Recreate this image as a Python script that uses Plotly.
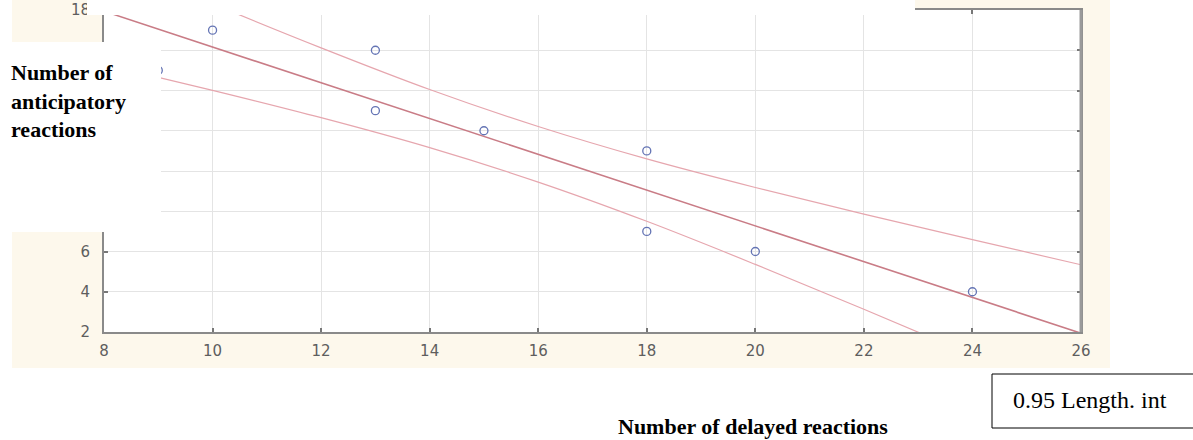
import plotly.graph_objects as go

# ---- data ----
delayed = [9, 10, 13, 13, 15, 18, 18, 20, 24]           # x: number of delayed reactions
anticipatory = [15, 17, 16, 13, 12, 11, 7, 6, 4]         # y: number of anticipatory reactions

band_x = [8, 10, 12, 14, 16, 18, 20, 22, 24, 26]
fit_y = [17.94, 16.16, 14.38, 12.61, 10.83, 9.05, 7.27, 5.49, 3.72, 1.94]
upper_y = [20.58, 18.31, 16.12, 14.05, 12.21, 10.60, 9.18, 7.86, 6.59, 5.34]
lower_y = [15.30, 14.01, 12.65, 11.16, 9.45, 7.50, 5.36, 3.13, 0.85, -1.47]

x_ticks = [8, 10, 12, 14, 16, 18, 20, 22, 24, 26]
x_tick_text = ["8", "10", "12", "14", "16", "18", "20", "22", "24", "26"]
y_ticks = [2, 4, 6, 8, 10, 12, 14, 16, 18]
# labels 8..16 are hidden behind the white label box in the reference
y_tick_text = ["2", "4", "6", "", "", "", "", "", "18"]

x_title = "Number of delayed reactions"
y_title = "Number of<br>anticipatory<br>reactions"
legend_text = "0.95 Length. int"

# ---- layout geometry (pixels) ----
FW, FH = 1193, 440
L, R, T, B = 104, 1081, 10, 332
W, H = R - L, B - T


def px(xp):
    return (xp - L) / W


def py(yp):
    return (B - yp) / H


fig = go.Figure()

fig.add_trace(go.Scatter(x=band_x, y=upper_y, mode="lines", line_shape="spline",
                         line=dict(color="#e6a6ae", width=1.2), hoverinfo="skip", showlegend=False))
fig.add_trace(go.Scatter(x=band_x, y=lower_y, mode="lines", line_shape="spline",
                         line=dict(color="#e6a6ae", width=1.2), hoverinfo="skip", showlegend=False))
fig.add_trace(go.Scatter(x=band_x, y=fit_y, mode="lines",
                         line=dict(color="#c97c86", width=1.6), hoverinfo="skip", showlegend=False))
fig.add_trace(go.Scatter(x=delayed, y=anticipatory, mode="markers",
                         marker=dict(symbol="circle-open", size=8, color="#6474b4",
                                     line=dict(width=1.3, color="#6474b4")),
                         showlegend=False))

shapes = [
    # cream scanned background
    dict(type="rect", xref="paper", yref="paper", x0=px(12), x1=px(1110), y0=py(368), y1=py(-2),
         fillcolor="#fdf8ec", line=dict(width=0), layer="below"),
    # white plot area
    dict(type="rect", xref="paper", yref="paper", x0=0, x1=1, y0=0, y1=1,
         fillcolor="white", line=dict(width=0), layer="below"),
    # thick right border
    dict(type="line", xref="paper", yref="paper", x0=1, x1=1, y0=0, y1=1,
         line=dict(color="#9a9a9a", width=3), layer="above"),
    # white cover band at top
    dict(type="rect", xref="paper", yref="paper", x0=px(87), x1=px(915), y0=py(15), y1=py(-2),
         fillcolor="white", line=dict(width=0), layer="above"),
    # white box behind y label
    dict(type="rect", xref="paper", yref="paper", x0=px(-2), x1=px(161), y0=py(232), y1=py(42),
         fillcolor="white", line=dict(width=0), layer="above"),
    # legend-like box
    dict(type="rect", xref="paper", yref="paper", x0=px(992), x1=px(1200), y0=py(428), y1=py(374),
         fillcolor="white", line=dict(color="black", width=1), layer="above"),
]

annotations = [
    dict(text="<b>" + y_title + "</b>", xref="paper", yref="paper", x=px(9), y=py(101),
         xanchor="left", yanchor="middle", align="left", showarrow=False,
         font=dict(family="Liberation Serif", size=22, color="black")),
    dict(text="<b>" + x_title + "</b>", xref="paper", yref="paper", x=px(753), y=py(426),
         xanchor="center", yanchor="middle", showarrow=False,
         font=dict(family="Liberation Serif", size=22, color="black")),
    dict(text=legend_text, xref="paper", yref="paper", x=px(1011), y=py(400),
         xanchor="left", yanchor="middle", showarrow=False,
         font=dict(family="Liberation Serif", size=24, color="black")),
]

axis_common = dict(showgrid=True, gridcolor="#e4e4e4", gridwidth=1.3,
                   showline=True, linecolor="#8a8a8a", linewidth=1.8, mirror="allticks",
                   ticks="inside", ticklen=4, tickcolor="#777", tickwidth=1.5,
                   zeroline=False, automargin=False,
                   tickfont=dict(family="DejaVu Sans", size=15, color="#5e5e5e"))

fig.update_layout(
    width=FW, height=FH,
    margin=dict(l=L, r=FW - R, t=T, b=FH - B, pad=0, autoexpand=False),
    paper_bgcolor="white", plot_bgcolor="white",
    shapes=shapes, annotations=annotations,
    xaxis=dict(range=[8, 26], tickvals=x_ticks, ticktext=x_tick_text,
               ticklabelstandoff=4, **axis_common),
    yaxis=dict(range=[2, 18], tickvals=y_ticks, ticktext=y_tick_text,
               ticklabelstandoff=9, **axis_common),
)

fig.write_html("out.html", config={"displayModeBar": False},
               post_script="document.body.style.margin='0';document.body.style.overflow='hidden';")
